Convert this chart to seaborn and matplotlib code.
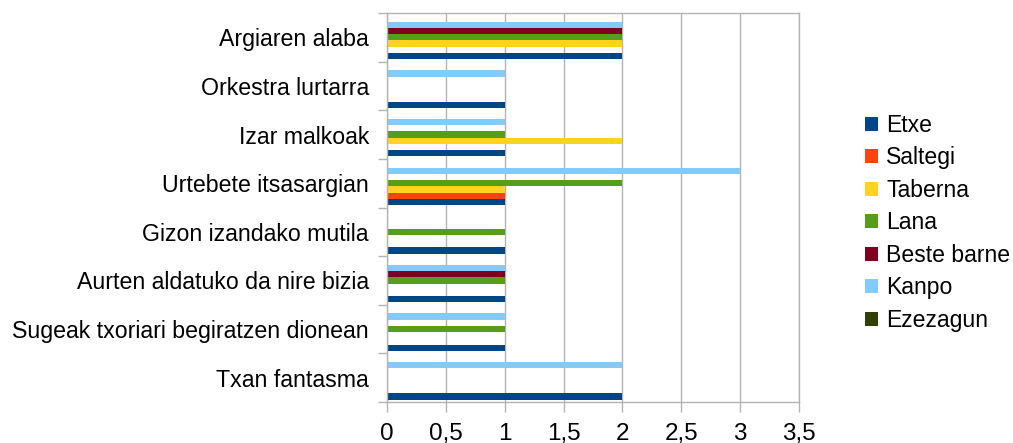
import numpy as np
import pandas as pd
import matplotlib
matplotlib.use("Agg")
import matplotlib.pyplot as plt
import seaborn as sns
from matplotlib.patches import Patch
from matplotlib.ticker import MultipleLocator, FuncFormatter

# categories from bottom to top (as the chart draws them)
songs = [
    "Txan fantasma",
    "Sugeak txoriari begiratzen dionean",
    "Aurten aldatuko da nire bizia",
    "Gizon izandako mutila",
    "Urtebete itsasargian",
    "Izar malkoak",
    "Orkestra lurtarra",
    "Argiaren alaba",
]
places = ["Etxe", "Saltegi", "Taberna", "Lana", "Beste barne", "Kanpo", "Ezezagun"]

etxe        = [2, 1, 1, 1, 1, 1, 1, 2]
saltegi     = [0, 0, 0, 0, 1, 0, 0, 0]
taberna     = [0, 0, 0, 0, 1, 2, 0, 2]
lana        = [0, 1, 1, 1, 2, 1, 0, 2]
beste_barne = [0, 0, 1, 0, 0, 0, 0, 2]
kanpo       = [2, 1, 1, 0, 3, 1, 1, 2]
ezezagun    = [0, 0, 0, 0, 0, 0, 0, 0]

colors = ["#004586", "#ff420e", "#ffd320", "#579d1c", "#7e0021", "#83caff", "#314004"]

series = [etxe, saltegi, taberna, lana, beste_barne, kanpo, ezezagun]
rows = []
for place, vals in zip(places, series):
    for song, v in zip(songs, vals):
        rows.append({"song": song, "place": place, "count": v})
df = pd.DataFrame(rows)

sns.set_style("white")
plt.rcParams["font.family"] = ["Liberation Sans", "DejaVu Sans"]
plt.rcParams["font.size"] = 16.7
plt.rcParams["text.color"] = "black"
plt.rcParams["xtick.labelcolor"] = "black"
plt.rcParams["ytick.labelcolor"] = "black"

fig = plt.figure(figsize=(10.13, 4.43), dpi=100)
ax = fig.add_axes([0.382, 0.0926, 0.4067, 0.878])

sns.barplot(data=df, y="song", x="count", hue="place", order=songs,
            hue_order=places, palette=colors, orient="h", width=0.9,
            saturation=1, linewidth=0, errorbar=None, legend=False, ax=ax)

ax.set_ylim(-0.5, len(songs) - 0.5)
ax.set_xlim(0, 3.5)
ax.xaxis.set_major_locator(MultipleLocator(0.5))
ax.xaxis.set_major_formatter(FuncFormatter(lambda v, p: f"{v:g}".replace(".", ",")))
ax.set_yticks(np.arange(len(songs)))
ax.set_yticklabels(songs)
ax.set_yticks(np.arange(len(songs) + 1) - 0.5, minor=True)

ax.set_xlabel("")
ax.set_ylabel("")
ax.set_axisbelow(True)
ax.grid(axis="x", color="#b3b3b3", linewidth=1)
ax.grid(axis="y", visible=False)
for s in ax.spines.values():
    s.set_color("#b3b3b3")
    s.set_linewidth(1)

ax.tick_params(axis="x", which="major", length=7, width=1, color="#b3b3b3",
               direction="out", pad=8, labelsize=17.5, bottom=True)
ax.tick_params(axis="y", which="major", length=0, pad=13, labelsize=16.7)
ax.tick_params(axis="y", which="minor", length=6.5, width=1, color="#b3b3b3",
               direction="out", left=True)

handles = [Patch(facecolor=c, edgecolor="none") for c in colors]
fig.legend(handles, places, loc="center left", bbox_to_anchor=(0.854, 0.497),
           frameon=False, fontsize=16.6, handlelength=0.56, handleheight=0.56,
           handletextpad=0.36, labelspacing=0.41, borderpad=0, borderaxespad=0)

fig.savefig("out.png", dpi=100)
